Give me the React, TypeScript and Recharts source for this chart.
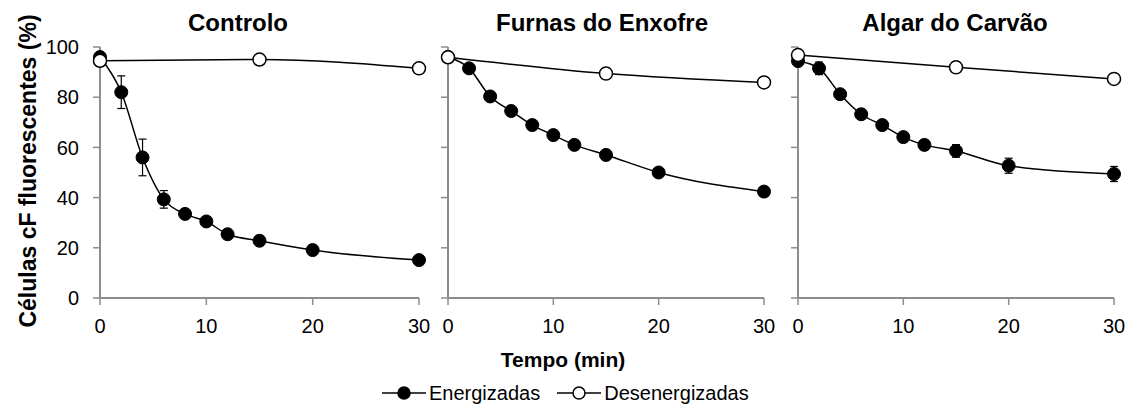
import React from "react";
import { LineChart, Line, XAxis, YAxis, ErrorBar } from "recharts";

const FONT = "'Liberation Sans', Arial, sans-serif";
const AXIS_COLOR = "#8c8c8c";

// sampling times (min)
const TIMES_ENERG = [0, 2, 4, 6, 8, 10, 12, 15, 20, 30];
const TIMES_DESEN = [0, 15, 30];

const X_TICKS = [0, 10, 20, 30];
const Y_TICKS = [0, 20, 40, 60, 80, 100];

// Controlo
const CONTROLO_ENERG = [96, 82, 56, 39.3, 33.5, 30.5, 25.4, 22.8, 19.1, 15.1];
const CONTROLO_ENERG_ERR = [0, 6.5, 7.3, 3.5, 0, 0, 0, 0, 0, 0];
const CONTROLO_DESEN = [94.5, 95, 91.5];

// Furnas do Enxofre
const FURNAS_ENERG = [96, 91.5, 80.3, 74.5, 68.9, 64.9, 61, 57, 50, 42.4];
const FURNAS_ENERG_ERR = [0, 0, 2, 0, 0, 0, 0, 2, 0, 0];
const FURNAS_DESEN = [95.9, 89.4, 85.9];

// Algar do Carvão
const ALGAR_ENERG = [94.4, 91.5, 81.2, 73.2, 68.9, 64.1, 61, 58.6, 52.7, 49.4];
const ALGAR_ENERG_ERR = [0, 2.5, 0, 2, 0, 0, 0, 2.5, 3, 3];
const ALGAR_DESEN = [96.8, 91.9, 87.3];

// tick labels drawn by hand so the font size sticks
function XTick(props: any) {
  const { x, y, payload } = props;
  return (
    <text x={x} y={y} dy="0.71em" textAnchor="middle" fill="#000" fontSize={20} fontFamily={FONT}>
      {payload.value}
    </text>
  );
}

function YTick(props: any) {
  const { x, y, payload } = props;
  return (
    <text x={x} y={y} dy="0.36em" textAnchor="end" fill="#000" fontSize={20} fontFamily={FONT}>
      {payload.value}
    </text>
  );
}

type PanelProps = {
  title: string;
  titleX: number;
  left: number;
  width: number;
  yAxisWidth: number;
  marginRight: number;
  showYLabels: boolean;
  energ: number[];
  energErr: number[];
  desen: number[];
};

function Panel({
  title,
  titleX,
  left,
  width,
  yAxisWidth,
  marginRight,
  showYLabels,
  energ,
  energErr,
  desen,
}: PanelProps) {
  const energData = TIMES_ENERG.map((t, i) => ({ t, v: energ[i], err: energErr[i] }));
  const desenData = TIMES_DESEN.map((t, i) => ({ t, v: desen[i] }));

  return (
    <>
      <div
        style={{
          position: "absolute",
          left: titleX,
          top: 11,
          transform: "translateX(-50%)",
          fontFamily: FONT,
          fontWeight: "bold",
          fontSize: 24,
          lineHeight: 1,
          whiteSpace: "nowrap",
        }}
      >
        {title}
      </div>
      <div style={{ position: "absolute", left, top: 0 }}>
        <LineChart
          width={width}
          height={345}
          margin={{ top: 47, right: marginRight, bottom: 7, left: 0 }}
        >
          <XAxis
            type="number"
            dataKey="t"
            domain={[0, 30]}
            ticks={X_TICKS}
            height={40}
            tickSize={7}
            tickMargin={14}
            axisLine={{ stroke: AXIS_COLOR, strokeWidth: 2 }}
            tickLine={{ stroke: AXIS_COLOR, strokeWidth: 1.5 }}
            tick={<XTick />}
            allowDuplicatedCategory={false}
          />
          <YAxis
            type="number"
            domain={[0, 100]}
            ticks={Y_TICKS}
            width={yAxisWidth}
            tickSize={7}
            tickMargin={14}
            axisLine={{ stroke: AXIS_COLOR, strokeWidth: 2 }}
            tickLine={{ stroke: AXIS_COLOR, strokeWidth: 1.5 }}
            tick={showYLabels ? <YTick /> : () => <g />}
          />
          <Line
            data={energData}
            dataKey="v"
            type="monotone"
            stroke="#000"
            strokeWidth={1.5}
            dot={{ r: 6.5, fill: "#000", stroke: "#000", strokeWidth: 1 }}
            activeDot={false}
            isAnimationActive={false}
          >
            <ErrorBar dataKey="err" direction="y" width={4} stroke="#000" strokeWidth={1.2} />
          </Line>
          <Line
            data={desenData}
            dataKey="v"
            type="monotone"
            stroke="#000"
            strokeWidth={1.5}
            dot={{ r: 6.5, fill: "#fff", stroke: "#000", strokeWidth: 1.5 }}
            activeDot={false}
            isAnimationActive={false}
          />
        </LineChart>
      </div>
    </>
  );
}

function LegendIcon({ filled }: { filled: boolean }) {
  return (
    <svg width={44} height={16} style={{ display: "block" }}>
      <line x1={0} y1={8} x2={44} y2={8} stroke="#000" strokeWidth={1.5} />
      <circle cx={22} cy={8} r={6} fill={filled ? "#000" : "#fff"} stroke="#000" strokeWidth={1.5} />
    </svg>
  );
}

export default function App() {
  return (
    <div
      style={{
        position: "absolute",
        left: 0,
        top: 0,
        width: 1133,
        height: 408,
        background: "#fff",
        overflow: "hidden",
      }}
    >
      <Panel
        title="Controlo"
        titleX={238}
        left={0}
        width={440}
        yAxisWidth={100}
        marginRight={21}
        showYLabels
        energ={CONTROLO_ENERG}
        energErr={CONTROLO_ENERG_ERR}
        desen={CONTROLO_DESEN}
      />
      <Panel
        title="Furnas do Enxofre"
        titleX={602}
        left={430}
        width={350}
        yAxisWidth={18}
        marginRight={16}
        showYLabels={false}
        energ={FURNAS_ENERG}
        energErr={FURNAS_ENERG_ERR}
        desen={FURNAS_DESEN}
      />
      <Panel
        title="Algar do Carvão"
        titleX={955}
        left={780}
        width={353}
        yAxisWidth={18}
        marginRight={19}
        showYLabels={false}
        energ={ALGAR_ENERG}
        energErr={ALGAR_ENERG_ERR}
        desen={ALGAR_DESEN}
      />

      {/* y-axis title */}
      <div
        style={{
          position: "absolute",
          left: 28,
          top: 171,
          transform: "translate(-50%, -50%) rotate(-90deg)",
          fontFamily: FONT,
          fontWeight: "bold",
          fontSize: 23,
          lineHeight: 1,
          whiteSpace: "nowrap",
        }}
      >
        Células cF fluorescentes (%)
      </div>

      {/* x-axis title */}
      <div
        style={{
          position: "absolute",
          left: 563,
          top: 359,
          transform: "translate(-50%, -50%)",
          fontFamily: FONT,
          fontWeight: "bold",
          fontSize: 21,
          lineHeight: 1,
          whiteSpace: "nowrap",
        }}
      >
        Tempo (min)
      </div>

      {/* legend */}
      <div
        style={{
          position: "absolute",
          left: 382,
          top: 393,
          transform: "translateY(-50%)",
          display: "flex",
          alignItems: "center",
          fontFamily: FONT,
          fontSize: 20,
          lineHeight: 1,
          whiteSpace: "nowrap",
        }}
      >
        <LegendIcon filled />
        <span style={{ marginLeft: 3 }}>Energizadas</span>
        <span style={{ width: 17 }} />
        <LegendIcon filled={false} />
        <span style={{ marginLeft: 3 }}>Desenergizadas</span>
      </div>
    </div>
  );
}
